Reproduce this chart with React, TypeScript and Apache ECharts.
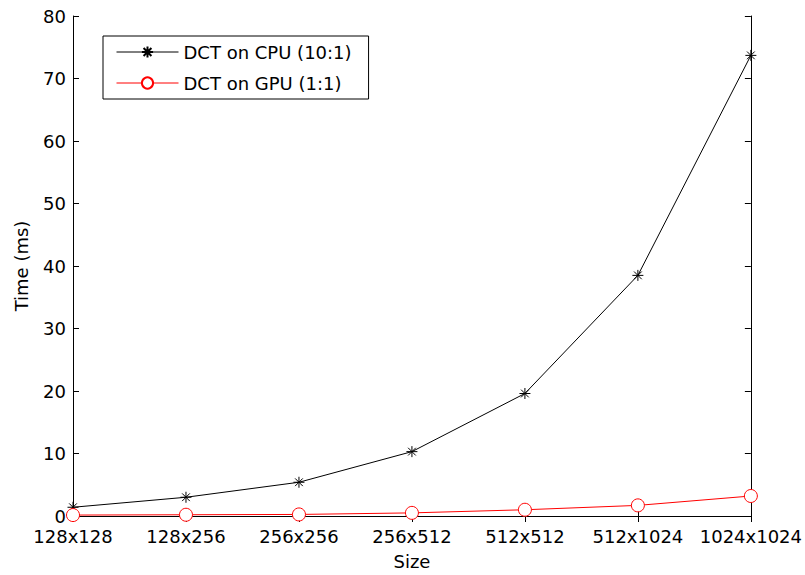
import React, { useEffect, useRef } from "react";
import * as echarts from "echarts";

const categories = ["128x128", "128x256", "256x256", "256x512", "512x512", "512x1024", "1024x1024"];
const cpuTimes = [1.4, 3.0, 5.4, 10.3, 19.6, 38.5, 73.7];
const gpuTimes = [0.15, 0.2, 0.25, 0.5, 1.0, 1.7, 3.2];
const seriesNames = ["DCT on CPU (10:1)", "DCT on GPU (1:1)"];

const FONT = "'DejaVu Sans', sans-serif";
const ASTERISK = "path://M0,-6L0,6M-6,0L6,0M-4.2,-4.2L4.2,4.2M-4.2,4.2L4.2,-4.2";

export default function App() {
  const ref = useRef<HTMLDivElement>(null);
  useEffect(() => {
    document.body.style.margin = "0";
    const chart = echarts.init(ref.current!, null, { renderer: "svg" });
    const axisLine = { show: true, lineStyle: { color: "#000", width: 1 } };
    const tick = { show: true, inside: true, length: 6, lineStyle: { color: "#000" } };
    chart.setOption({
      animation: false,
      backgroundColor: "#fff",
      grid: { left: 73, right: 51, top: 16, bottom: 52, containLabel: false },
      legend: {
        data: seriesNames,
        orient: "vertical",
        left: 103,
        top: 36,
        padding: [6, 17, 6, 13],
        itemWidth: 62,
        itemHeight: 14,
        itemGap: 11,
        borderColor: "#000",
        borderWidth: 1,
        borderRadius: 0,
        backgroundColor: "#fff",
        lineStyle: { width: 1 },
        textStyle: { fontFamily: FONT, fontSize: 18, color: "#000", lineHeight: 20 },
      },
      xAxis: [
        {
          type: "category",
          data: categories,
          boundaryGap: false,
          position: "bottom",
          name: "Size",
          nameLocation: "middle",
          nameGap: 36,
          nameTextStyle: { fontFamily: FONT, fontSize: 18, color: "#000" },
          axisLine,
          axisTick: { ...tick, interval: 0 },
          axisLabel: { fontFamily: FONT, fontSize: 18, color: "#000", margin: 11, interval: 0 },
          splitLine: { show: false },
        },
        {
          type: "category",
          data: categories,
          boundaryGap: false,
          position: "top",
          axisLine,
          axisTick: { ...tick, interval: 0 },
          axisLabel: { show: false },
          splitLine: { show: false },
        },
      ],
      yAxis: [
        {
          type: "value",
          min: 0,
          max: 80,
          interval: 10,
          position: "left",
          name: "Time (ms)",
          nameLocation: "middle",
          nameGap: 43,
          nameRotate: 90,
          nameTextStyle: { fontFamily: FONT, fontSize: 18, color: "#000" },
          axisLine,
          axisTick: tick,
          axisLabel: { fontFamily: FONT, fontSize: 18, color: "#000", margin: 7 },
          splitLine: { show: false },
        },
        {
          type: "value",
          min: 0,
          max: 80,
          interval: 10,
          position: "right",
          axisLine,
          axisTick: tick,
          axisLabel: { show: false },
          splitLine: { show: false },
        },
      ],
      series: [
        {
          name: seriesNames[0],
          type: "line",
          data: cpuTimes,
          symbol: ASTERISK,
          symbolSize: 11,
          showAllSymbol: true,
          lineStyle: { color: "#000", width: 1 },
          itemStyle: { color: "none", borderColor: "#000", borderWidth: 1 },
        },
        {
          name: seriesNames[1],
          type: "line",
          data: gpuTimes,
          symbol: "circle",
          symbolSize: 13,
          showAllSymbol: true,
          lineStyle: { color: "#ff0000", width: 1 },
          itemStyle: { color: "#fff", borderColor: "#ff0000", borderWidth: 1 },
        },
      ],
    });
    return () => chart.dispose();
  }, []);
  return <div ref={ref} style={{ position: "fixed", left: 0, top: 0, width: 805, height: 575 }} />;
}
